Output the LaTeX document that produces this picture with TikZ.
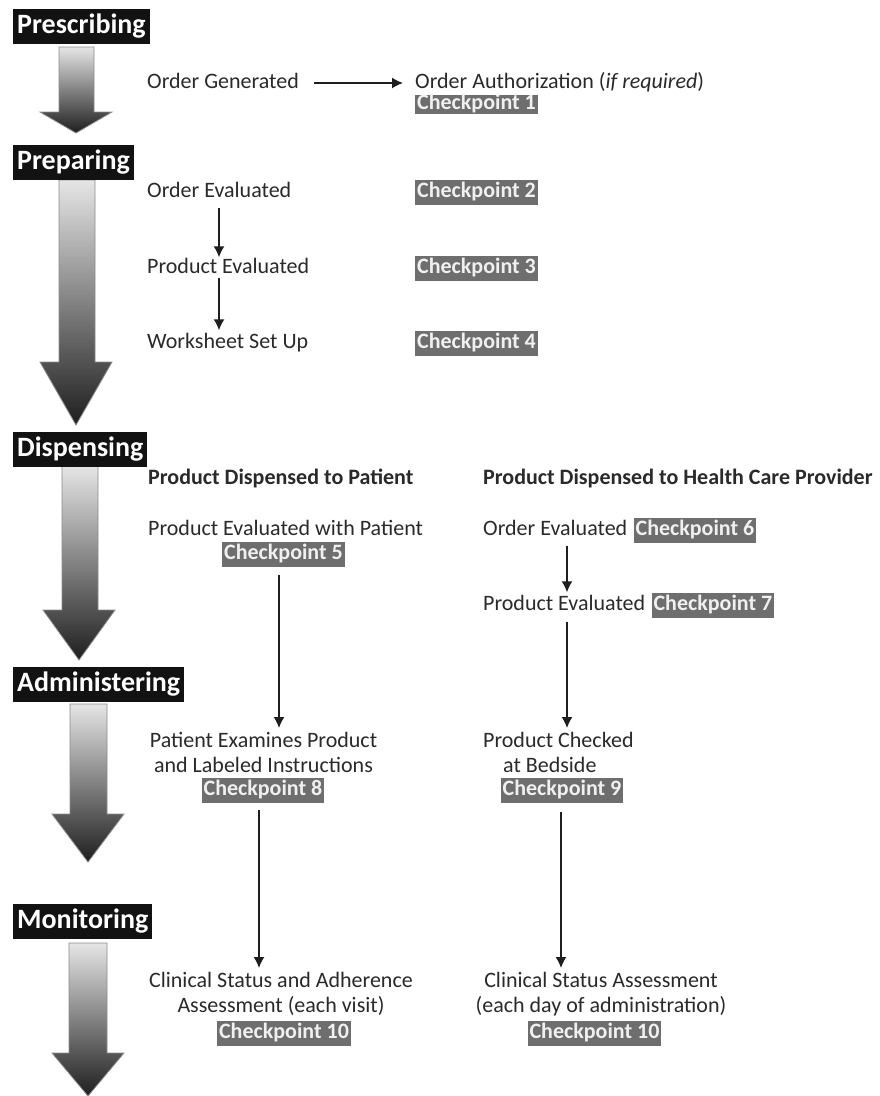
\documentclass[tikz,border=0pt]{standalone}
\usepackage{fontspec}
\setmainfont{Carlito}
\usetikzlibrary{arrows.meta}
\definecolor{txt}{HTML}{2A2A2A}
\definecolor{cpgray}{HTML}{6E6E6E}
\definecolor{hdblack}{HTML}{121212}
\definecolor{linecol}{HTML}{1E1E1E}
\newcommand\bigarrow[7]{%
  \shadedraw[top color=black!10, middle color=black!48, bottom color=black!88,
    draw=black!45, line width=0.8pt, line join=miter]
    (#1,#3) -- (#2,#3) -- (#2,#4) -- (#6,#4) -- ({(#5+#6)/2},#7) -- (#5,#4) -- (#1,#4) -- cycle;}
\begin{document}
\begin{tikzpicture}[x=1pt,y=-1pt,
  txtnode/.style={inner sep=0pt, text=txt, font=\fontsize{22}{25}\selectfont, text height=15pt, text depth=4pt},
  boldtxt/.style={txtnode, font=\bfseries\fontsize{22}{25}\selectfont},
  txtml/.style={inner sep=0pt, text=txt, font=\fontsize{22}{25}\selectfont},
  heading/.style={fill=hdblack, text=white, font=\bfseries\fontsize{28}{30}\selectfont,
    inner xsep=4pt, inner ysep=0pt, minimum height=35pt, anchor=north west,
    text height=19pt, text depth=6pt},
  checkbox/.style={fill=cpgray, text=white!94!black, font=\bfseries\fontsize{22}{25}\selectfont,
    inner xsep=2pt, inner ysep=0pt, minimum height=25pt, text height=15pt, text depth=5pt},
  conn/.style={line width=1.5pt, draw=linecol, -{Latex[length=11pt,width=11pt]}}
]
\useasboundingbox (0,0) rectangle (880,1096);
\fill[white] (0,0) rectangle (880,1096);

% big process arrows
\bigarrow{59}{94}{47}{112}{40}{112}{133}
\bigarrow{59}{95}{180}{362}{40}{112}{425}
\bigarrow{62}{98}{466}{610}{43}{115}{660}
\bigarrow{70}{107}{704}{814}{52}{124}{862}
\bigarrow{69}{107}{943}{1053}{52}{124}{1096}

% headings
\node[heading] (hpres) at (13,9) {Prescribing};
\node[heading] (hprep) at (13,145) {Preparing};
\node[heading] (hdisp) at (13,432) {Dispensing};
\node[heading] (hadm) at (13,667) {Administering};
\node[heading] (hmon) at (13,904) {Monitoring};

% Prescribing
\node[txtnode, anchor=west] (og) at (147,83) {Order Generated};
\node[txtnode, anchor=west] (oa) at (415,83) {Order Authorization (\textit{if required})};
\node[checkbox, anchor=north west, minimum height=19pt, text height=14pt, text depth=4pt] (cp1) at (415,95) {Checkpoint 1};
\draw[conn, shorten <=15pt, shorten >=12pt] (og) -- (oa);

% Preparing
\node[txtnode, anchor=west] (oe) at (147,192) {Order Evaluated};
\node[checkbox, anchor=west] (cp2) at (415,192) {Checkpoint 2};
\node[txtnode, anchor=west] (pe) at (147,268) {Product Evaluated};
\node[checkbox, anchor=west] (cp3) at (415,268) {Checkpoint 3};
\node[txtnode, anchor=west] (ws) at (147,343) {Worksheet Set Up};
\node[checkbox, anchor=west] (cp4) at (415,343) {Checkpoint 4};
\coordinate (c1) at (219,0);
\draw[conn, shorten <=6pt, shorten >=1pt] (oe.south -| c1) -- (pe.north -| c1);
\draw[conn, shorten <=0pt, shorten >=3pt] (pe.south -| c1) -- (ws.north -| c1);

% Dispensing
\node[boldtxt, anchor=west] (h1) at (148,479) {Product Dispensed to Patient};
\node[boldtxt, anchor=west] (h2) at (483,479) {Product Dispensed to Health Care Provider};
\node[txtnode, anchor=west] (pwp) at (148,530) {Product Evaluated with Patient};
\node[checkbox] (cp5) at (283.5,554.5) {Checkpoint 5};
\node[txtnode, anchor=west] (oe2) at (483,530) {Order Evaluated};
\node[checkbox, anchor=west] (cp6) at ([xshift=6pt]oe2.east) {Checkpoint 6};
\node[txtnode, anchor=west] (pe2) at (483,605) {Product Evaluated};
\node[checkbox, anchor=west] (cp7) at ([xshift=6pt]pe2.east) {Checkpoint 7};
\coordinate (c2) at (567,0);
\draw[conn, shorten <=6pt, shorten >=3pt] (oe2.south -| c2) -- (pe2.north -| c2);

% Administering
\node[txtml, align=center, anchor=north] (pep) at (263.5,732) {Patient Examines Product\\and Labeled Instructions};
\node[checkbox] (cp8) at (263,790.5) {Checkpoint 8};
\node[txtml, align=left, anchor=north west] (pcb) at (483,732) {Product Checked\\\hspace*{20pt}at Bedside};
\node[checkbox] (cp9) at (562,790.5) {Checkpoint 9};
\coordinate (c3) at (279,0);
\draw[conn, shorten <=8pt, shorten >=4pt] (cp5.south -| c3) -- (pep.north -| c3);
\draw[conn, shorten <=7pt, shorten >=4pt] (pe2.south -| c2) -- (pcb.north -| c2);

% Monitoring
\node[txtml, align=center, anchor=north] (cs1) at (281,972) {Clinical Status and Adherence\\Assessment (each visit)};
\node[checkbox] (cp10a) at (284,1033) {Checkpoint 10};
\node[txtml, align=center, anchor=north] (cs2) at (601,972) {Clinical Status Assessment\\(each day of administration)};
\node[checkbox] (cp10b) at (594.5,1033) {Checkpoint 10};
\coordinate (c5) at (259,0);
\coordinate (c6) at (561,0);
\draw[conn, shorten <=7pt, shorten >=4pt] (cp8.south -| c5) -- (cs1.north -| c5);
\draw[conn, shorten <=9pt, shorten >=4pt] (cp9.south -| c6) -- (cs2.north -| c6);
\end{tikzpicture}
\end{document}
